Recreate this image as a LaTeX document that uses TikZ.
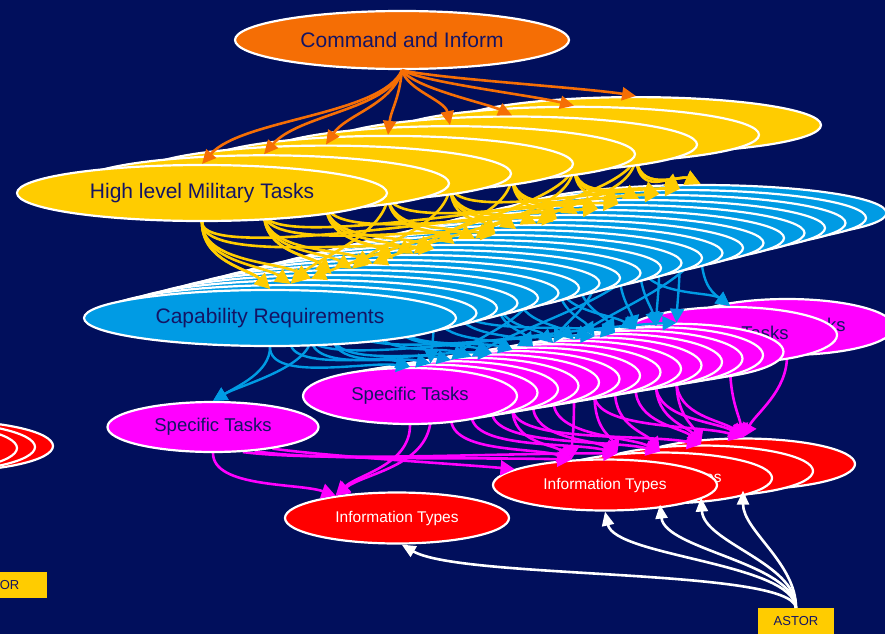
\documentclass[tikz,border=0pt]{standalone}
\usepackage{fontspec}
\setmainfont{Liberation Sans}
\usetikzlibrary{shapes.geometric,arrows.meta,calc}

\definecolor{navy}{RGB}{1,15,92}
\definecolor{inktext}{RGB}{20,20,100}
\definecolor{cmdorange}{RGB}{245,110,5}
\definecolor{milyellow}{RGB}{255,204,0}
\definecolor{capblue}{RGB}{0,155,228}
\definecolor{taskpink}{RGB}{255,0,255}
\definecolor{infored}{RGB}{255,0,0}

\pgfdeclarelayer{background}
\pgfdeclarelayer{rednodes}
\pgfdeclarelayer{pinkedges}
\pgfdeclarelayer{pinknodes}
\pgfdeclarelayer{blueedges}
\pgfdeclarelayer{bluenodes}
\pgfdeclarelayer{yellowedges}
\pgfdeclarelayer{yellownodes}
\pgfsetlayers{background,rednodes,pinkedges,pinknodes,blueedges,bluenodes,yellowedges,yellownodes,main}

\begin{document}
\begin{tikzpicture}[x=1pt, y=-1pt,
    oval/.style={ellipse, draw=white, line width=2.2pt, inner sep=0pt, text=inktext},
    cmdnode/.style={oval, fill=cmdorange, minimum width=334, minimum height=58, font=\fontsize{21}{25}\selectfont},
    milnode/.style={oval, fill=milyellow, minimum width=370, minimum height=56, font=\fontsize{21}{25}\selectfont},
    capnode/.style={oval, fill=capblue, minimum width=372, minimum height=56, font=\fontsize{21}{25}\selectfont},
    tasknode/.style={oval, fill=taskpink, minimum width=214, minimum height=56, font=\fontsize{18.5}{22}\selectfont},
    infonode/.style={oval, fill=infored, text=white, minimum width=224, minimum height=51, font=\fontsize{15.5}{18}\selectfont},
    astorbox/.style={rectangle, fill=milyellow, text=inktext, minimum width=76, minimum height=26, inner sep=1pt, font=\fontsize{13}{15}\selectfont},
    cmdedge/.style={cmdorange, line width=2.6pt, -{Triangle[length=14pt,width=13pt]}},
    miledge/.style={milyellow, line width=2.6pt, -{Triangle[length=15pt,width=15pt]}},
    capedge/.style={capblue, line width=2.4pt, -{Triangle[length=14pt,width=14pt]}},
    taskedge/.style={taskpink, line width=2.6pt, -{Triangle[length=14pt,width=15pt]}},
    astoredge/.style={white, line width=2.6pt, -{Triangle[length=14pt,width=12pt]}}]

  \useasboundingbox (0,0) rectangle (885,634);
  \begin{pgfonlayer}{background}
    \fill[navy] (0,0) rectangle (885,634);
  \end{pgfonlayer}

  %% information types and ASTOR
  \begin{pgfonlayer}{rednodes}
    \clip (0,0) rectangle (885,634);
    \foreach \i/\px/\py in {2/-59/446, 1/-77/447, 0/-95/448}
      \node[infonode] (fl\i) at (\px,\py) {};
    \node[infonode] (rl) at (397,518) {Information Types};
    \node[infonode] (r3) at (743,464) {};
    \node[infonode] (r2) at (701,471) {};
    \node[infonode] (r1) at (660,478) {Information Types};
    \node[infonode] (r0) at (605,485) {Information Types};
    \node[astorbox, minimum width=100] (astorl) at (-3,585) {ASTOR};
    \node[astorbox] (astor) at (796,621) {ASTOR};
  \end{pgfonlayer}

  %% specific tasks
  \begin{pgfonlayer}{pinknodes}
    \clip (0,0) rectangle (885,634);
    \node[tasknode] (p15) at (787,327) {Specific Tasks};
    \node[tasknode] (p14) at (730,335) {Specific Tasks};
    \foreach \i in {13,12,...,1}
      \node[tasknode] (p\i) at ({410+20.5*\i},{396-3.4*\i}) {};
    \node[tasknode] (p0) at (410,396) {Specific Tasks};
    \node[tasknode, minimum width=211, minimum height=50] (pl) at (213,427) {Specific Tasks};
  \end{pgfonlayer}

  %% capability requirements
  \begin{pgfonlayer}{bluenodes}
    \clip (0,0) rectangle (885,634);
    \foreach \i in {21,20,...,1}
      \node[capnode] (b\i) at ({270+20.5*\i},{318-5*\i}) {};
    \node[capnode] (b0) at (270,318) {Capability Requirements};
  \end{pgfonlayer}

  %% high level military tasks
  \begin{pgfonlayer}{yellownodes}
    \foreach \i in {7,6,...,1}
      \node[milnode] (y\i) at ({202+62*\i},{193-9.7*\i}) {};
    \node[milnode] (y0) at (202,193) {High level Military Tasks};
  \end{pgfonlayer}

  \node[cmdnode] (cmd) at (402,40) {Command and Inform};

  %% command -> military tasks
  \foreach \i/\ax/\ay/\bx/\by in {0/-20/45/40/-45, 1/-15/40/35/-40, 2/-10/35/20/-30, 3/-3/30/3/-25,
      4/5/20/-5/-25, 5/12/18/-25/-12, 6/20/12/-40/-10, 7/30/8/-50/-8}
    \draw[cmdedge] (cmd.south) .. controls +(\ax,\ay) and +(\bx,\by) .. (y\i.north);

  %% military tasks -> capability requirements
  \begin{pgfonlayer}{yellowedges}
    \foreach \j in {0,...,21}{
      \pgfmathtruncatemacro\srcA{\j*8/22}
      \pgfmathtruncatemacro\srcB{mod(3*\j,8)}
      \draw[miledge] (y\srcA.south) .. controls +(0,40) and ($(b\j.north)!0.3!(y\srcA.south)$) .. (b\j.north);
      \draw[miledge] (y\srcB.south) .. controls +(0,40) and ($(b\j.north)!0.3!(y\srcB.south)$) .. (b\j.north);
    }
  \end{pgfonlayer}

  %% capability requirements -> specific tasks
  \begin{pgfonlayer}{blueedges}
    \foreach \i in {0,...,13}{
      \pgfmathtruncatemacro\srcA{round(1.5*\i)}
      \pgfmathtruncatemacro\srcB{mod(5*\i+3,22)}
      \draw[capedge] (b\srcA.south) .. controls +(0,35) and ($(p\i.north)!0.3!(b\srcA.south)$) .. (p\i.north);
      \draw[capedge] (b\srcB.south) .. controls +(0,35) and ($(p\i.north)!0.3!(b\srcB.south)$) .. (p\i.north);
    }
    \draw[capedge] (b21.south) .. controls +(0,40) and +(-20,-15) .. (p14.north);
    \draw[capedge] (b18.south) .. controls +(0,40) and +(-20,-15) .. (p14.north);
    \draw[capedge] (b0.south) .. controls +(0,25) and +(25,-15) .. (pl.north);
    \draw[capedge] (b2.south) .. controls +(0,30) and +(25,-15) .. (pl.north);
  \end{pgfonlayer}

  %% specific tasks -> information types
  \begin{pgfonlayer}{pinkedges}
    \foreach \s/\t/\cx/\cy in {pl.south/rl.160/0/35, p0.south/rl.160/0/40, p1.south/rl.160/-5/45,
        pl.-20/r0.170/60/8, pl.-30/r0.143/60/10, pl.-40/r1.150/80/10,
        p2.south/r0.143/0/35, p5.south/r0.143/0/35, p8.south/r0.143/0/35,
        p3.south/r1.150/0/35, p6.south/r1.150/0/35, p9.south/r1.150/0/35,
        p4.south/r1.north/0/35, p7.south/r1.north/0/35, p10.south/r1.north/0/35,
        p5.south/r2.north/0/35, p11.south/r2.north/0/35, p12.south/r2.north/0/35, p13.south/r2.north/0/35,
        p9.south/r3.north/0/35, p12.south/r3.north/0/35, p13.south/r3.north/0/35,
        p14.south/r3.north/0/35, p15.south/r3.north/0/35}
      \draw[taskedge] (\s) .. controls +(\cx,\cy) and ($(\t)!0.3!(\s)$) .. (\t);
  \end{pgfonlayer}

  %% ASTOR -> information types
  \draw[astoredge] (astor.north) .. controls +(-5,-40) and +(60,35) .. (rl.-80);
  \foreach \i/\ax/\bx/\by in {0/-3/10/45, 1/-2/5/45, 2/0/3/45, 3/0/0/40}
    \draw[astoredge] (astor.north) .. controls +(\ax,-45) and +(\bx,\by) .. (r\i.south);

\end{tikzpicture}
\end{document}
